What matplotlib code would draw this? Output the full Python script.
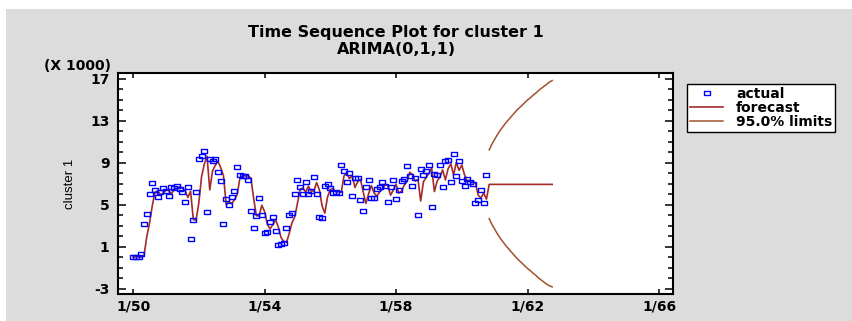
import numpy as np
import matplotlib
matplotlib.use("Agg")
import matplotlib.pyplot as plt
from matplotlib.patches import Rectangle

plt.rcParams["axes.unicode_minus"] = False

# Monthly observations for cluster 1 (thousands), Jan 1950 onwards
actual = [
    0.05, 0.05, 0.05, 0.3, 3.15, 4.1, 6.0, 7.1, 6.4, 5.75,
    6.2, 6.65, 6.3, 5.9, 6.7, 6.65, 6.85, 6.5, 6.2, 5.3,
    6.7, 1.8, 3.55, 6.25, 9.35, 9.7, 10.15, 4.3, 9.4, 9.15,
    9.4, 8.15, 7.3, 3.15, 5.55, 5.0, 5.75, 6.3, 8.6, 7.9,
    7.8, 7.8, 7.4, 4.4, 2.85, 3.95, 5.65, 4.0, 2.35, 2.4,
    3.4, 3.9, 2.5, 1.2, 1.3, 1.35, 2.85, 4.0, 4.2, 6.0,
    7.4, 6.7, 6.0, 7.15, 6.0, 6.35, 7.65, 6.0, 3.9, 3.75,
    6.8, 6.95, 6.6, 6.1, 6.25, 6.15, 8.8, 8.25, 7.15, 8.0,
    5.9, 7.6, 7.6, 5.45, 4.4, 6.7, 7.35, 5.65, 5.65, 6.5,
    6.7, 7.15, 6.85, 5.3, 6.75, 7.35, 5.55, 6.45, 7.25, 7.5,
    8.7, 7.75, 6.85, 7.55, 4.0, 8.45, 7.9, 8.25, 8.85, 4.8,
    7.95, 7.9, 8.8, 6.75, 9.15, 9.25, 7.15, 9.85, 7.8, 9.15,
    7.25, 6.8, 7.45, 7.15, 7.0, 5.15, 5.5, 6.45, 5.15, 7.9,
]

# One-step-ahead forecasts over the observed period
one_step = [
    0.05, 0.05, 0.05, 0.05, 0.2, 1.97, 3.25, 4.9, 6.22, 6.33,
    5.98, 6.11, 6.43, 6.35, 6.08, 6.45, 6.57, 6.74, 6.6, 6.36,
    5.72, 6.31, 3.6, 3.57, 5.18, 7.68, 8.89, 9.65, 6.44, 8.22,
    8.78, 9.15, 8.55, 7.8, 5.01, 5.33, 5.13, 5.5, 5.98, 7.55,
    7.76, 7.78, 7.79, 7.56, 5.66, 3.97, 3.96, 4.97, 4.39, 3.17,
    2.71, 3.12, 3.59, 2.94, 1.9, 1.54, 1.43, 2.28, 3.31, 3.84,
    5.14, 6.5, 6.62, 6.25, 6.79, 6.32, 6.34, 7.13, 6.45, 4.92,
    4.22, 5.77, 6.48, 6.55, 6.28, 6.26, 6.19, 7.76, 8.05, 7.51,
    7.8, 6.66, 7.22, 7.45, 6.25, 5.14, 6.08, 6.84, 6.13, 5.84,
    6.24, 6.52, 6.9, 6.87, 5.93, 6.42, 6.98, 6.12, 6.32, 6.88,
    7.25, 8.12, 7.9, 7.27, 7.44, 5.38, 7.22, 7.63, 8.0, 8.51,
    6.28, 7.28, 7.65, 8.34, 7.39, 8.45, 8.93, 7.86, 9.05, 8.3,
    8.81, 7.87, 7.23, 7.36, 7.23, 7.09, 5.93, 5.67, 6.14, 5.55,
]

# 24-month forecast horizon and its 95% limits
ahead = [
    6.96, 6.96, 6.96, 6.96, 6.96, 6.96, 6.96, 6.96, 6.96, 6.96, 6.96, 6.96,
    6.96, 6.96, 6.96, 6.96, 6.96, 6.96, 6.96, 6.96, 6.96, 6.96, 6.96, 6.96,
]
upper = [
    10.25, 10.8, 11.25, 11.7, 12.1, 12.45, 12.8, 13.1, 13.4, 13.7, 14.0, 14.25,
    14.5, 14.75, 15.0, 15.2, 15.45, 15.65, 15.9, 16.1, 16.3, 16.5, 16.7, 16.85,
]
lower = [
    3.7, 3.15, 2.7, 2.25, 1.85, 1.5, 1.15, 0.85, 0.55, 0.25, -0.05, -0.3,
    -0.55, -0.8, -1.05, -1.25, -1.5, -1.7, -1.95, -2.15, -2.35, -2.55, -2.7, -2.8,
]

tick_labels = ["1/50", "1/54", "1/58", "1/62", "1/66"]
tick_months = [0, 48, 96, 144, 192]

W, H = 852, 321
fig = plt.figure(figsize=(W / 100, H / 100), dpi=100, facecolor="white")
panel = Rectangle((6 / W, 0), 1 - 6 / W, (H - 9) / H,
                  transform=fig.transFigure, facecolor="#DCDCDC",
                  edgecolor="none", zorder=-10)
fig.patches.append(panel)

ax = fig.add_axes([118 / W, 1 - 294 / H, (673 - 118) / W, (294 - 73) / H])
ax.set_zorder(5)
ax.set_facecolor("white")

n = len(actual)
t_obs = np.arange(n)
t_fc = np.arange(n, n + len(ahead))

red = "#A52A2A"
brown = "#A0522D"
h_fc, = ax.plot(np.concatenate([t_obs, t_fc]), one_step + ahead,
                color=red, lw=1.2, zorder=2)
h_lim, = ax.plot(t_fc, upper, color=brown, lw=1.1, zorder=2)
ax.plot(t_fc, lower, color=brown, lw=1.1, zorder=2)
box = [(-1.4, -1), (1.4, -1), (1.4, 1), (-1.4, 1), (-1.4, -1)]
h_act, = ax.plot(t_obs, actual, ls="none", marker=box, ms=3.7,
                 mfc="none", mec="#0000FF", mew=1.0, zorder=3)

ax.set_xlim(-5.5, 197.1)
ax.set_ylim(-3.48, 17.57)
ax.set_xticks(tick_months, tick_labels)
ax.set_yticks(np.arange(-3, 18, 4))
ax.set_yticks(np.arange(-3, 18, 1), minor=True)
ax.tick_params(which="both", direction="in", top=True, right=True,
               width=1.1, colors="black")
ax.tick_params(axis="y", which="major", length=6, pad=6)
ax.tick_params(axis="y", which="minor", length=3.5)
ax.tick_params(axis="x", which="major", length=3.5, pad=4)
for sp in ax.spines.values():
    sp.set_linewidth(1.5)

bold = dict(family="DejaVu Sans", weight="bold")
for lab in ax.get_xticklabels() + ax.get_yticklabels():
    lab.set_fontfamily("DejaVu Sans")
    lab.set_fontweight("bold")
    lab.set_fontsize(10)

ax.set_ylabel("cluster 1", family="Liberation Sans", fontsize=9.5)
ax.yaxis.set_label_coords((76 - 118) / 555, 0.5)

fig.text(396 / W, 1 - 33 / H, "Time Sequence Plot for cluster 1",
         ha="center", va="center", fontsize=11.5, **bold)
fig.text(396 / W, 1 - 49 / H, "ARIMA(0,1,1)",
         ha="center", va="center", fontsize=11.5, **bold)
fig.text(111 / W, 1 - 66 / H, "(X 1000)", ha="right", va="center",
         fontsize=10, **bold)

leg = ax.legend([h_act, h_fc, h_lim], ["actual", "forecast", "95.0% limits"],
                loc="upper left", bbox_to_anchor=(687 / W, 1 - 84 / H),
                bbox_transform=fig.transFigure, frameon=True, fancybox=False,
                edgecolor="black", framealpha=1, borderaxespad=0,
                borderpad=0.22, handlelength=2.4, handletextpad=0.9,
                labelspacing=0.0, prop=dict(size=10, **bold))
leg.get_frame().set_linewidth(1.0)

fig.savefig("out.png", dpi=100, facecolor=fig.get_facecolor())
